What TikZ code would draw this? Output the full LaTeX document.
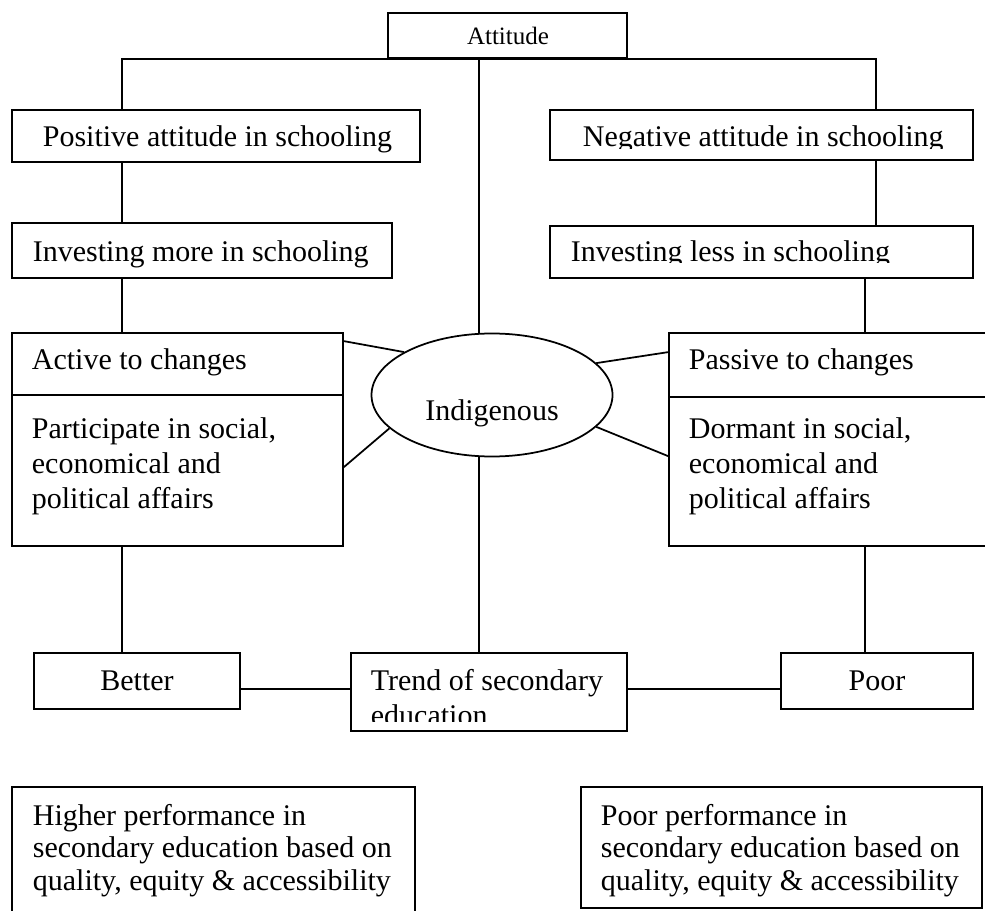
\documentclass[tikz,border=0pt]{standalone}
\usepackage{fontspec}
\setmainfont{Liberation Serif}
\usepackage{tikz}
\usetikzlibrary{calc,fit,shapes.geometric}

\begin{document}
\begin{tikzpicture}[x=0.4pt,y=-0.4pt,line width=0.7pt,
		box/.style={draw,rectangle,inner sep=0pt},
		txt/.style={inner sep=0pt,font=\fontsize{12}{14}\selectfont},
		smalltxt/.style={inner sep=0pt,font=\fontsize{10}{12}\selectfont}]
			\useasboundingbox (0,0) rectangle (985,911);
			% boxes
			\node[box,fit={(388,13) (627,58)}] (att) {};
			\node[box,fit={(12,110) (420,162)}] (pos) {};
			\node[box,fit={(550,110) (973,160)}] (neg) {};
			\node[box,fit={(12,223) (392,278)}] (invm) {};
			\node[box,fit={(550,226) (973,278)}] (invl) {};
			\node[box,fit={(12,333) (343,395)}] (acttop) {};
			\node[box,fit={(12,395) (343,546)}] (actbot) {};
			\node[box,fit={(669,333) (1000,397)}] (pastop) {};
			\node[box,fit={(669,397) (1000,546)}] (pasbot) {};
			\node[draw,ellipse,inner sep=0pt,minimum width=96.4pt,minimum height=49.2pt] (ind) at (492,395) {};
			\node[box,fit={(34,653) (240,709)}] (better) {};
			\node[box,fit={(351,653) (627,731)}] (trend) {};
			\node[box,fit={(781,653) (973,709)}] (poor) {};
			\node[box,fit={(12,787) (415,930)}] (high) {};
			\node[box,fit={(581,787) (982,908)}] (low) {};
			% texts
			\node[smalltxt,anchor=base] (atttxt) at (508,45) {Attitude};
			\node[txt,anchor=base west] (postxt) at (42,147) {Positive attitude in schooling};
			\node[txt,anchor=base west] (invmtxt) at (32,262) {Investing more in schooling};
			\begin{scope}
				\clip (551,111) rectangle (972,149);
				\node[txt,anchor=base west] (negtxt) at (582,147) {Negative attitude in schooling};
			\end{scope}
			\begin{scope}
				\clip (551,227) rectangle (972,263);
				\node[txt,anchor=base west] (invltxt) at (570,262) {Investing less in schooling};
			\end{scope}
			\node[txt,anchor=base west] (acttxt) at (31,370) {Active to changes};
			\node[txt,anchor=base west] (actdesc) at (31,438)
			{
				\begin{tabular}[t]{@{}l@{}}
					Participate in social,\\
					economical and\\
					political affairs
				\end{tabular}
			};
			\node[txt,anchor=base west] (pastxt) at (688,370) {Passive to changes};
			\node[txt,anchor=base west] (pasdesc) at (688,438)
			{
				\begin{tabular}[t]{@{}l@{}}
					Dormant in social,\\
					economical and\\
					political affairs
				\end{tabular}
			};
			\node[txt,anchor=base] (indtxt) at (492,420) {Indigenous};
			\node[txt,anchor=base] (bettertxt) at (137,690) {Better};
			\node[txt,anchor=base] (poortxt) at (877,690) {Poor};
			\begin{scope}
				\clip (352,654) rectangle (626,721);
				\node[txt,anchor=base west] (trendtxt) at (370,690)
				{
					\begin{tabular}[t]{@{}l@{}}
						Trend of secondary\\
						education
					\end{tabular}
				};
			\end{scope}
			\node[txt,anchor=base west,font=\fontsize{12}{13}\selectfont] (hightxt) at (32,825)
			{
				\begin{tabular}[t]{@{}l@{}}
					Higher performance in\\
					secondary education based on\\
					quality, equity \& accessibility
				\end{tabular}
			};
			\node[txt,anchor=base west,font=\fontsize{12}{13}\selectfont] (lowtxt) at (600,825)
			{
				\begin{tabular}[t]{@{}l@{}}
					Poor performance in\\
					secondary education based on\\
					quality, equity \& accessibility
				\end{tabular}
			};
			% connectors
			\coordinate (lspine) at (122,0);
			\coordinate (rspine) at (876,0);
			\coordinate (rlow) at (865,0);
			\coordinate (cspine) at (479,0);
			\coordinate (hrow) at (0,689);
			\draw (pos.north -| lspine) |- (att.south) -| (neg.north -| rspine);
			\draw (att.south -| cspine) -- (ind.north -| cspine);
			\draw (pos.south -| lspine) -- (invm.north -| lspine);
			\draw (invm.south -| lspine) -- (acttop.north -| lspine);
			\draw (actbot.south -| lspine) -- (better.north -| lspine);
			\draw (neg.south -| rspine) -- (invl.north -| rspine);
			\draw (invl.south -| rlow) -- (pastop.north -| rlow);
			\draw (pasbot.south -| rlow) -- (poor.north -| rlow);
			\draw (ind.south -| cspine) -- (trend.north -| cspine);
			\draw (better.east |- hrow) -- (trend.west |- hrow);
			\draw (trend.east |- hrow) -- (poor.west |- hrow);
			\draw ($(acttop.north east)+(0,9)$) -- (ind.154);
			\draw ($(actbot.north east)+(0,73)$) -- (ind.198);
			\draw (ind.17) -- ($(pastop.north west)+(0,20)$);
			\draw (ind.-17) -- ($(pasbot.north west)+(0,60)$);
		\end{tikzpicture}
\end{document}
